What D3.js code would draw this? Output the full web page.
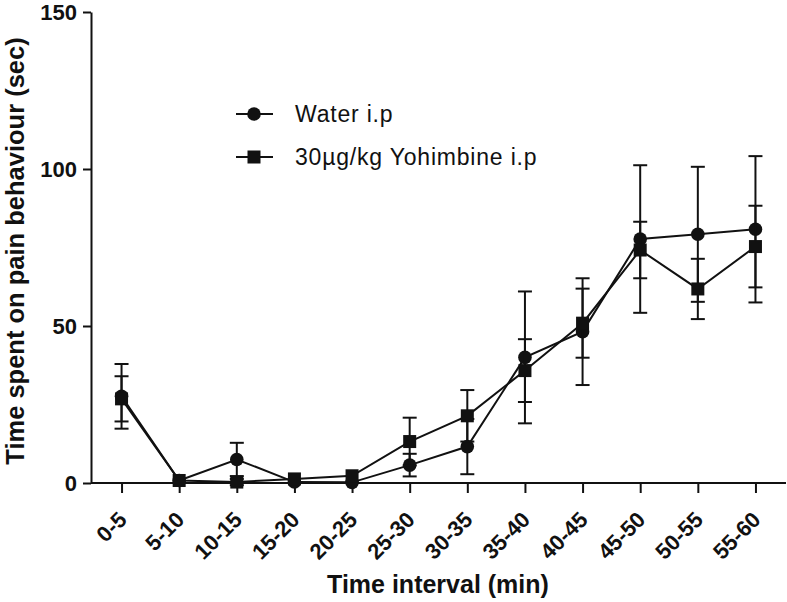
<!DOCTYPE html>
<html>
<head>
<meta charset="utf-8">
<script src="https://cdn.jsdelivr.net/npm/d3@7"></script>
<style>
  html, body { margin: 0; padding: 0; background: #fff; }
  svg { display: block; font-family: "Liberation Sans", Arial, Helvetica, sans-serif; }
</style>
</head>
<body>
<svg id="chart" width="787" height="602"></svg>
<script>
const categories = ["0-5","5-10","10-15","15-20","20-25","25-30","30-35","35-40","40-45","45-50","50-55","55-60"];
const waterMean = [27.6, 0.8, 7.5, 0.3, 0.2, 5.7, 11.6, 40.0, 48.2, 77.7, 79.2, 80.8];
const waterErr  = [10.3, 0, 5.3, 0, 0, 3.6, 8.8, 21.0, 17.0, 23.5, 21.5, 23.3];
const yohMean   = [26.8, 0.8, 0.3, 1.3, 2.3, 13.2, 21.4, 35.8, 50.9, 74.2, 61.8, 75.3];
const yohErr    = [7.2, 0, 1.0, 0, 0, 7.6, 8.2, 10.0, 11.0, 9.0, 9.6, 13.0];
const yTicks = [0, 50, 100, 150];
const seriesNames = ["Water i.p", "30µg/kg Yohimbine i.p"];

const svg = d3.select("#chart");
const ink = "#111";
const mLeft = 91, mRight = 786, mTop = 12, mBottom = 483;

const x = d3.scalePoint().domain(categories).range([mLeft, mRight]).padding(0.53);
const y = d3.scaleLinear().domain([0, 150]).range([mBottom, mTop]);

// axes
const yAxis = svg.append("g").attr("transform", `translate(${mLeft},0)`)
  .call(d3.axisLeft(y).tickValues(yTicks).tickSize(8).tickPadding(6).tickSizeOuter(0));
yAxis.select(".domain").attr("stroke", ink).attr("stroke-width", 2);
yAxis.selectAll(".tick line").attr("stroke", ink).attr("stroke-width", 2);
yAxis.selectAll(".tick text").attr("fill", ink).attr("font-size", 22).attr("font-weight", "bold")
  .attr("font-family", '"Liberation Sans", Arial, sans-serif').attr("dy", "0.36em");

const xAxis = svg.append("g").attr("transform", `translate(0,${mBottom})`)
  .call(d3.axisBottom(x).tickSize(10).tickSizeOuter(0));
xAxis.select(".domain").attr("stroke", ink).attr("stroke-width", 2)
  .attr("d", `M${mLeft},0H${mRight}`);
xAxis.selectAll(".tick line").attr("stroke", ink).attr("stroke-width", 2);
xAxis.selectAll(".tick text")
  .attr("fill", ink).attr("font-size", 22).attr("font-weight", "bold")
  .attr("font-family", '"Liberation Sans", Arial, sans-serif')
  .attr("text-anchor", "end").attr("dy", 0).attr("y", 0)
  .attr("transform", "translate(6,38) rotate(-45)");

// axis titles
svg.append("text").attr("transform", "translate(24,251) rotate(-90)")
  .attr("text-anchor", "middle").attr("font-size", 25.5).attr("font-weight", "bold").attr("fill", ink)
  .text("Time spent on pain behaviour (sec)");
svg.append("text").attr("x", 438).attr("y", 593)
  .attr("text-anchor", "middle").attr("font-size", 25).attr("font-weight", "bold").attr("fill", ink)
  .text("Time interval (min)");

function drawSeries(means, errs, shape) {
  const data = categories.map((c, i) => ({ c, m: means[i], e: errs[i] }));
  const g = svg.append("g");
  data.filter(d => d.e > 0).forEach(d => {
    const cx = x(d.c);
    g.append("line").attr("x1", cx).attr("x2", cx).attr("y1", y(d.m - d.e)).attr("y2", y(d.m + d.e))
      .attr("stroke", ink).attr("stroke-width", 2);
    [d.m - d.e, d.m + d.e].forEach(v => {
      g.append("line").attr("x1", cx - 7).attr("x2", cx + 7).attr("y1", y(v)).attr("y2", y(v))
        .attr("stroke", ink).attr("stroke-width", 2);
    });
  });
  g.append("path").datum(data)
    .attr("d", d3.line().x(d => x(d.c)).y(d => y(d.m)))
    .attr("fill", "none").attr("stroke", ink).attr("stroke-width", 2);
  data.forEach(d => {
    if (shape === "circle") {
      g.append("circle").attr("cx", x(d.c)).attr("cy", y(d.m)).attr("r", 6.8).attr("fill", ink);
    } else {
      g.append("rect").attr("x", x(d.c) - 6.5).attr("y", y(d.m) - 6.5).attr("width", 13).attr("height", 13).attr("fill", ink);
    }
  });
}
drawSeries(waterMean, waterErr, "circle");
drawSeries(yohMean, yohErr, "square");

// legend
const legend = svg.append("g");
const legRows = [{ name: seriesNames[0], shape: "circle", y: 114 }, { name: seriesNames[1], shape: "square", y: 157 }];
legRows.forEach(r => {
  legend.append("line").attr("x1", 236).attr("x2", 273).attr("y1", r.y).attr("y2", r.y)
    .attr("stroke", ink).attr("stroke-width", 2);
  if (r.shape === "circle") legend.append("circle").attr("cx", 254).attr("cy", r.y).attr("r", 6.8).attr("fill", ink);
  else legend.append("rect").attr("x", 247.5).attr("y", r.y - 6.5).attr("width", 13).attr("height", 13).attr("fill", ink);
  legend.append("text").attr("x", 295).attr("y", r.y).attr("dy", "0.36em")
    .attr("font-size", 23).attr("fill", ink).attr("letter-spacing", 0.8).text(r.name);
});
</script>
</body>
</html>
